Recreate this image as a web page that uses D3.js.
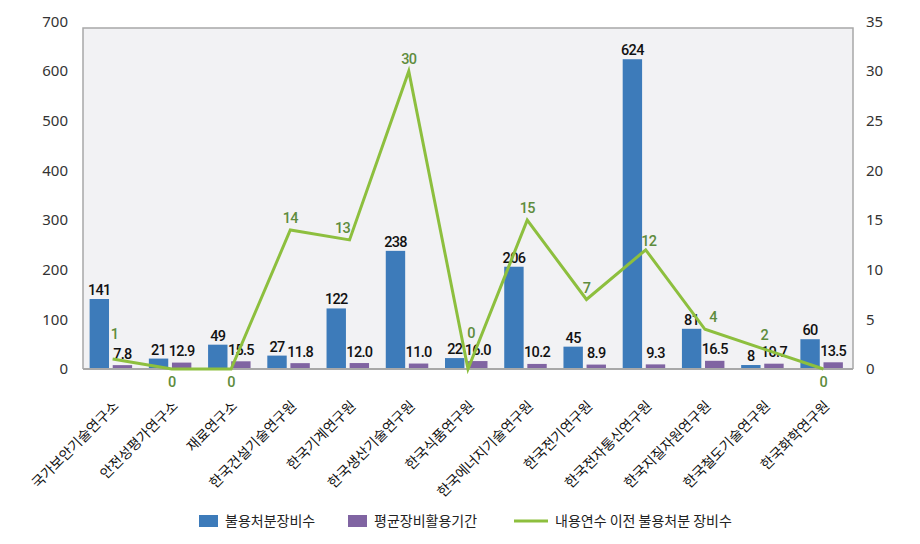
<!DOCTYPE html>
<html>
<head>
<meta charset="utf-8">
<script src="https://cdn.jsdelivr.net/npm/d3@7"></script>
<style>
  body { margin: 0; background: #fff; }
  svg { display: block; }
</style>
</head>
<body>
<svg id="chart" width="920" height="544"></svg>
<script>
let categories = [
  "국가보안기술연구소", "안전성평가연구소", "재료연구소", "한국건설기술연구원",
  "한국기계연구원", "한국생산기술연구원", "한국식품연구원", "한국에너지기술연구원",
  "한국전기연구원", "한국전자통신연구원", "한국지질자원연구원", "한국철도기술연구원",
  "한국화학연구원"
];
let disposedCount = [141, 21, 49, 27, 122, 238, 22, 206, 45, 624, 81, 8, 60];
let avgUsePeriod = [7.8, 12.9, 15.5, 11.8, 12.0, 11.0, 16.0, 10.2, 8.9, 9.3, 16.5, 10.7, 13.5];
let earlyDisposed = [1, 0, 0, 14, 13, 30, 0, 15, 7, 12, 4, 2, 0];
let leftTicks = [0, 100, 200, 300, 400, 500, 600, 700];
let rightTicks = [0, 5, 10, 15, 20, 25, 30, 35];
let seriesNames = ["불용처분장비수", "평균장비활용기간", "내용연수 이전 불용처분 장비수"];

document.addEventListener("DOMContentLoaded", () => {
  create_combo_chart();
});

function create_combo_chart() {
  let svg = d3.select("#chart");

  let plot = { left: 83, right: 853, top: 28, bottom: 369, scaleTop: 21.5 };
  let colors = { blue: "#3D7BBA", purple: "#8064A2", green: "#8DBF3E", greenText: "#5E8C3D" };
  let krFont = "'Noto Sans CJK KR', sans-serif";

  // number labels: narrow-ish medium weight
  function numStyle(sel) {
    sel.style("font-family", "Roboto, sans-serif")
      .style("font-size", "14.5px")
      .style("font-weight", "500")
      .style("letter-spacing", "-0.7px");
  }

  // scales
  let x0 = d3.scaleBand().domain(categories).range([plot.left, plot.right]);
  let x1 = d3.scaleBand().domain(["count", "period"]).range([-23, 19.5]).paddingInner(0.16);
  let y = d3.scaleLinear().domain([0, 700]).range([plot.bottom, plot.scaleTop]);
  let y2 = d3.scaleLinear().domain([0, 35]).range([plot.bottom, plot.scaleTop]);
  let cx = (d) => x0(d) + x0.bandwidth() / 2;

  // plot background + frame
  svg.append("rect")
    .attr("x", plot.left).attr("y", plot.top)
    .attr("width", plot.right - plot.left).attr("height", plot.bottom - plot.top)
    .attr("fill", "#F2F2F4");
  svg.append("path")
    .attr("d", `M${plot.left},${plot.bottom}V${plot.top}H${plot.right}V${plot.bottom}`)
    .attr("fill", "none").attr("stroke", "#A8A8A8").attr("stroke-width", 1.5);

  let rows = categories.map((c, i) => ({
    cat: c, count: disposedCount[i], period: avgUsePeriod[i], early: earlyDisposed[i]
  }));

  // bars
  let groups = svg.append("g").selectAll("g")
    .data(rows).enter().append("g")
    .attr("transform", (d) => "translate(" + cx(d.cat) + ",0)");

  groups.append("rect")
    .attr("x", x1("count")).attr("width", x1.bandwidth())
    .attr("y", (d) => y(d.count)).attr("height", (d) => y(0) - y(d.count))
    .attr("fill", colors.blue);
  groups.append("rect")
    .attr("x", x1("period")).attr("width", x1.bandwidth())
    .attr("y", (d) => y(d.period)).attr("height", (d) => y(0) - y(d.period))
    .attr("fill", colors.purple);

  // x axis line
  svg.append("line")
    .attr("x1", plot.left).attr("x2", plot.right)
    .attr("y1", plot.bottom).attr("y2", plot.bottom)
    .attr("stroke", "#A8A8A8").attr("stroke-width", 2);

  // bar value labels
  groups.append("text")
    .attr("x", x1("count") + x1.bandwidth() / 2)
    .attr("y", (d) => y(d.count) - 4)
    .attr("text-anchor", "middle")
    .call(numStyle)
    .attr("fill", "#111")
    .text((d) => d.count);
  groups.append("text")
    .attr("x", x1("period") + x1.bandwidth() / 2)
    .attr("y", (d) => y(d.period) - 6.5)
    .attr("text-anchor", "middle")
    .call(numStyle)
    .attr("fill", "#111")
    .text((d) => d.period.toFixed(1));

  // line series on right axis
  let line = d3.line()
    .x((d) => cx(d.cat))
    .y((d) => y2(d.early));
  svg.append("path")
    .datum(rows)
    .attr("fill", "none")
    .attr("stroke", colors.green)
    .attr("stroke-width", 3)
    .attr("d", line);

  // line labels; a few zeros sit under the axis, a few are nudged sideways
  let belowLabels = [1, 2, 12];
  let nudgeX = { 0: 2, 4: -7, 6: 3, 9: 3, 10: 8 };
  let nudgeY = { 0: -20, 6: -31, 9: -4, 11: -9 };
  svg.append("g").selectAll("text")
    .data(rows).enter().append("text")
    .attr("x", (d, i) => cx(d.cat) + (nudgeX[i] || 0))
    .attr("y", (d, i) => belowLabels.includes(i) ? y2(d.early) + 18 : y2(d.early) + (nudgeY[i] || -7))
    .attr("text-anchor", "middle")
    .call(numStyle)
    .attr("fill", colors.greenText)
    .text((d) => d.early);

  // left axis
  let leftAxis = svg.append("g")
    .attr("transform", "translate(" + plot.left + ",0)")
    .call(d3.axisLeft(y).tickValues(leftTicks).tickSize(0).tickPadding(15));
  leftAxis.select(".domain").remove();

  // right axis
  let rightAxis = svg.append("g")
    .attr("transform", "translate(" + plot.right + ",0)")
    .call(d3.axisRight(y2).tickValues(rightTicks).tickSize(0).tickPadding(13));
  rightAxis.select(".domain").remove();

  svg.selectAll(".tick text")
    .style("font-family", "'Noto Sans', sans-serif")
    .style("font-size", "15px")
    .attr("fill", "#333");

  // category labels
  svg.append("g").selectAll("text")
    .data(categories).enter().append("text")
    .attr("transform", (d) => "translate(" + (cx(d) + 7) + "," + (plot.bottom + 38) + ") rotate(-45)")
    .attr("text-anchor", "end")
    .style("font-family", krFont).style("font-size", "14px")
    .attr("fill", "#111")
    .text((d) => d);

  // legend
  let legend = svg.append("g").attr("class", "legend");
  let legendX = [199, 348, 514];
  let legendY = 521;
  seriesNames.forEach((name, i) => {
    let g = legend.append("g").attr("transform", "translate(" + legendX[i] + "," + legendY + ")");
    if (i < 2) {
      g.append("rect").attr("x", 0).attr("y", -6).attr("width", 19).attr("height", 12)
        .attr("fill", i === 0 ? colors.blue : colors.purple);
    } else {
      g.append("line").attr("x1", 0).attr("x2", 34).attr("y1", 0).attr("y2", 0)
        .attr("stroke", colors.green).attr("stroke-width", 3);
    }
    g.append("text")
      .attr("x", i < 2 ? 26 : 41)
      .attr("y", 0).attr("dy", "0.35em")
      .style("font-family", krFont).style("font-size", "14px")
      .attr("fill", "#222")
      .text(name);
  });
}
</script>
</body>
</html>
